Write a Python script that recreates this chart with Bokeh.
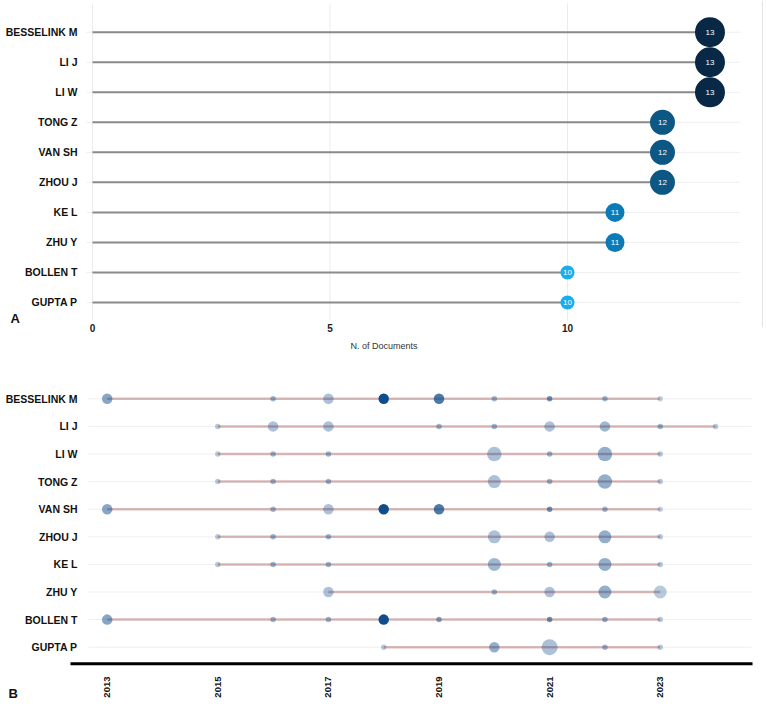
import math
from bokeh.plotting import figure
from bokeh.layouts import column
from bokeh.models import FixedTicker
from bokeh.core.properties import value
from bokeh.embed import file_html
from bokeh.resources import INLINE

# ---------------- data ----------------
authors = ["BESSELINK M", "LI J", "LI W", "TONG Z", "VAN SH",
           "ZHOU J", "KE L", "ZHU Y", "BOLLEN T", "GUPTA P"]
n_docs = [13, 13, 13, 12, 12, 12, 11, 11, 10, 10]
doc_ticks = [0, 5, 10]

# production over time: years, number of articles, citation intensity (TC per year, relative)
years_besselink = [2013, 2016, 2017, 2018, 2019, 2020, 2021, 2022, 2023]
freq_besselink = [2, 1, 2, 2, 2, 1, 1, 1, 1]
tcpy_besselink = [0.50, 0.40, 0.35, 1.00, 0.75, 0.40, 0.60, 0.40, 0.25]

years_lij = [2015, 2016, 2017, 2019, 2020, 2021, 2022, 2023, 2024]
freq_lij = [1, 2, 2, 1, 1, 2, 2, 1, 1]
tcpy_lij = [0.30, 0.35, 0.35, 0.40, 0.40, 0.35, 0.40, 0.40, 0.30]

years_liw = [2015, 2016, 2017, 2020, 2021, 2022, 2023]
freq_liw = [1, 1, 1, 4, 1, 4, 1]
tcpy_liw = [0.30, 0.40, 0.40, 0.35, 0.40, 0.45, 0.30]

years_tong = [2015, 2016, 2017, 2020, 2021, 2022, 2023]
freq_tong = [1, 1, 1, 3, 1, 4, 1]
tcpy_tong = [0.30, 0.40, 0.40, 0.35, 0.40, 0.45, 0.30]

years_vansh = [2013, 2016, 2017, 2018, 2019, 2021, 2022, 2023]
freq_vansh = [2, 1, 2, 2, 2, 1, 1, 1]
tcpy_vansh = [0.50, 0.40, 0.35, 1.00, 0.75, 0.60, 0.40, 0.25]

years_zhou = [2015, 2016, 2017, 2020, 2021, 2022, 2023]
freq_zhou = [1, 1, 1, 3, 2, 3, 1]
tcpy_zhou = [0.30, 0.40, 0.40, 0.35, 0.35, 0.45, 0.30]

years_ke = [2015, 2016, 2017, 2020, 2021, 2022, 2023]
freq_ke = [1, 1, 1, 3, 1, 3, 1]
tcpy_ke = [0.30, 0.40, 0.40, 0.40, 0.40, 0.45, 0.30]

years_zhu = [2017, 2020, 2021, 2022, 2023]
freq_zhu = [2, 1, 2, 3, 3]
tcpy_zhu = [0.35, 0.40, 0.35, 0.45, 0.30]

years_bollen = [2013, 2016, 2017, 2018, 2019, 2021, 2022, 2023]
freq_bollen = [2, 1, 1, 2, 1, 1, 1, 1]
tcpy_bollen = [0.50, 0.40, 0.40, 1.00, 0.50, 0.60, 0.45, 0.30]

years_gupta = [2018, 2020, 2021, 2022, 2023]
freq_gupta = [1, 2, 5, 1, 1]
tcpy_gupta = [0.30, 0.45, 0.35, 0.40, 0.30]

year_ticks = [2013, 2015, 2017, 2019, 2021, 2023]

production = [
    (years_besselink, freq_besselink, tcpy_besselink),
    (years_lij, freq_lij, tcpy_lij),
    (years_liw, freq_liw, tcpy_liw),
    (years_tong, freq_tong, tcpy_tong),
    (years_vansh, freq_vansh, tcpy_vansh),
    (years_zhou, freq_zhou, tcpy_zhou),
    (years_ke, freq_ke, tcpy_ke),
    (years_zhu, freq_zhu, tcpy_zhu),
    (years_bollen, freq_bollen, tcpy_bollen),
    (years_gupta, freq_gupta, tcpy_gupta),
]

# ---------------- styles ----------------
FONT = "Liberation Sans"
bubble_size = {13: 30, 12: 25, 11: 19, 10: 14}
bubble_color = {13: "#082845", 12: "#0D5784", 11: "#0B7BB8", 10: "#19ADEC"}
freq_size = {1: 5.5, 2: 10.5, 3: 13, 4: 14.5, 5: 16}

rows = [len(authors) - i for i in range(len(authors))]
n = len(rows)

# ---------------- panel A ----------------
p1 = figure(width=767, height=360, x_range=(-1.937, 14.211), y_range=(0.1675, 11.056),
            output_backend="svg", toolbar_location=None, y_axis_location=None,
            min_border_left=0, min_border_right=0, min_border_top=0, min_border_bottom=33)
p1.outline_line_color = None
p1.xgrid.grid_line_color = None
p1.ygrid.grid_line_color = None

# guide lines (vertical at document ticks, horizontal per row) and right border
p1.segment(x0=doc_ticks, y0=[0.401] * len(doc_ticks), x1=doc_ticks, y1=[10.96] * len(doc_ticks),
           line_color="#ececec", line_width=1)
p1.segment(x0=[-0.126] * n, y0=rows, x1=[13.64] * n, y1=rows, line_color="#efefef", line_width=1)
p1.segment(x0=[14.105], y0=[0.1675], x1=[14.105], y1=[11.056], line_color="#e4e4e4", line_width=1)

p1.segment(x0=[0] * n, y0=rows, x1=n_docs, y1=rows, line_color="#8a8a8a", line_width=2)
p1.scatter(x=n_docs, y=rows, size=[bubble_size[v] for v in n_docs],
           fill_color=[bubble_color[v] for v in n_docs], line_color=None)
p1.text(x=n_docs, y=rows, text=[str(v) for v in n_docs], text_color="white",
        text_font=value(FONT), text_font_size="8px", text_align="center", text_baseline="middle")

# author names
p1.text(x=[-0.316] * n, y=rows, text=authors, text_color="#111111", text_font=value(FONT),
        text_font_style="bold", text_font_size="10.5px", text_align="right", text_baseline="middle")
# panel letter
p1.text(x=[-1.726], y=[0.467], text=["A"], text_color="#111111", text_font=value(FONT),
        text_font_style="bold", text_font_size="13px", text_align="left", text_baseline="middle")

p1.xaxis.ticker = FixedTicker(ticks=doc_ticks)
p1.xaxis.axis_line_color = None
p1.xaxis.major_tick_line_color = None
p1.xaxis.minor_tick_line_color = None
p1.xaxis.major_tick_out = 0
p1.xaxis.major_tick_in = 0
p1.xaxis.minor_tick_out = 0
p1.xaxis.major_label_text_font = FONT
p1.xaxis.major_label_text_font_style = "bold"
p1.xaxis.major_label_text_font_size = "10px"
p1.xaxis.major_label_text_color = "#222222"
p1.xaxis.major_label_standoff = -4
p1.xaxis.axis_label = "N. of Documents"
p1.xaxis.axis_label_text_font = FONT
p1.xaxis.axis_label_text_font_style = "normal"
p1.xaxis.axis_label_text_font_size = "9px"
p1.xaxis.axis_label_text_color = "#333333"
p1.xaxis.axis_label_standoff = 6

# ---------------- panel B ----------------
p2 = figure(width=767, height=344, x_range=(2011.0705, 2024.940), y_range=(-1.076, 11.388),
            output_backend="svg", toolbar_location=None,
            x_axis_location=None, y_axis_location=None,
            min_border_left=0, min_border_right=0, min_border_top=0, min_border_bottom=0)
p2.outline_line_color = None
p2.xgrid.grid_line_color = None
p2.ygrid.grid_line_color = None

# row guide lines
p2.segment(x0=[2012.662] * n, y0=rows, x1=[2024.651] * n, y1=rows, line_color="#efefef", line_width=1)

for r, (yrs, fr, tc) in zip(rows, production):
    p2.line(x=[min(yrs), max(yrs)], y=[r, r], line_color="#8B1A1A", line_alpha=0.3, line_width=2.5)
for r, (yrs, fr, tc) in zip(rows, production):
    p2.scatter(x=yrs, y=[r] * len(yrs), size=[freq_size[f] for f in fr],
               fill_color="#104E8B", fill_alpha=tc, line_color=None)

# baseline (time axis line)
p2.segment(x0=[2012.336], y0=[0.3986], x1=[2024.669], y1=[0.3986], line_color="black", line_width=3)

# year tick labels (vertical)
p2.text(x=year_ticks, y=[-0.0616] * len(year_ticks), text=[str(y) for y in year_ticks],
        angle=math.pi / 2, text_color="#111111", text_font=value(FONT), text_font_style="bold",
        text_font_size="9.5px", text_align="right", text_baseline="middle")

# author names
p2.text(x=[2012.463] * n, y=rows, text=authors, text_color="#111111", text_font=value(FONT),
        text_font_style="bold", text_font_size="10.5px", text_align="right", text_baseline="middle")
# panel letter
p2.text(x=[2011.215], y=[-0.678], text=["B"], text_color="#111111", text_font=value(FONT),
        text_font_style="bold", text_font_size="13px", text_align="left", text_baseline="middle")

layout = column(p1, p2, spacing=0)
open("out.html", "w").write(file_html(layout, INLINE))
